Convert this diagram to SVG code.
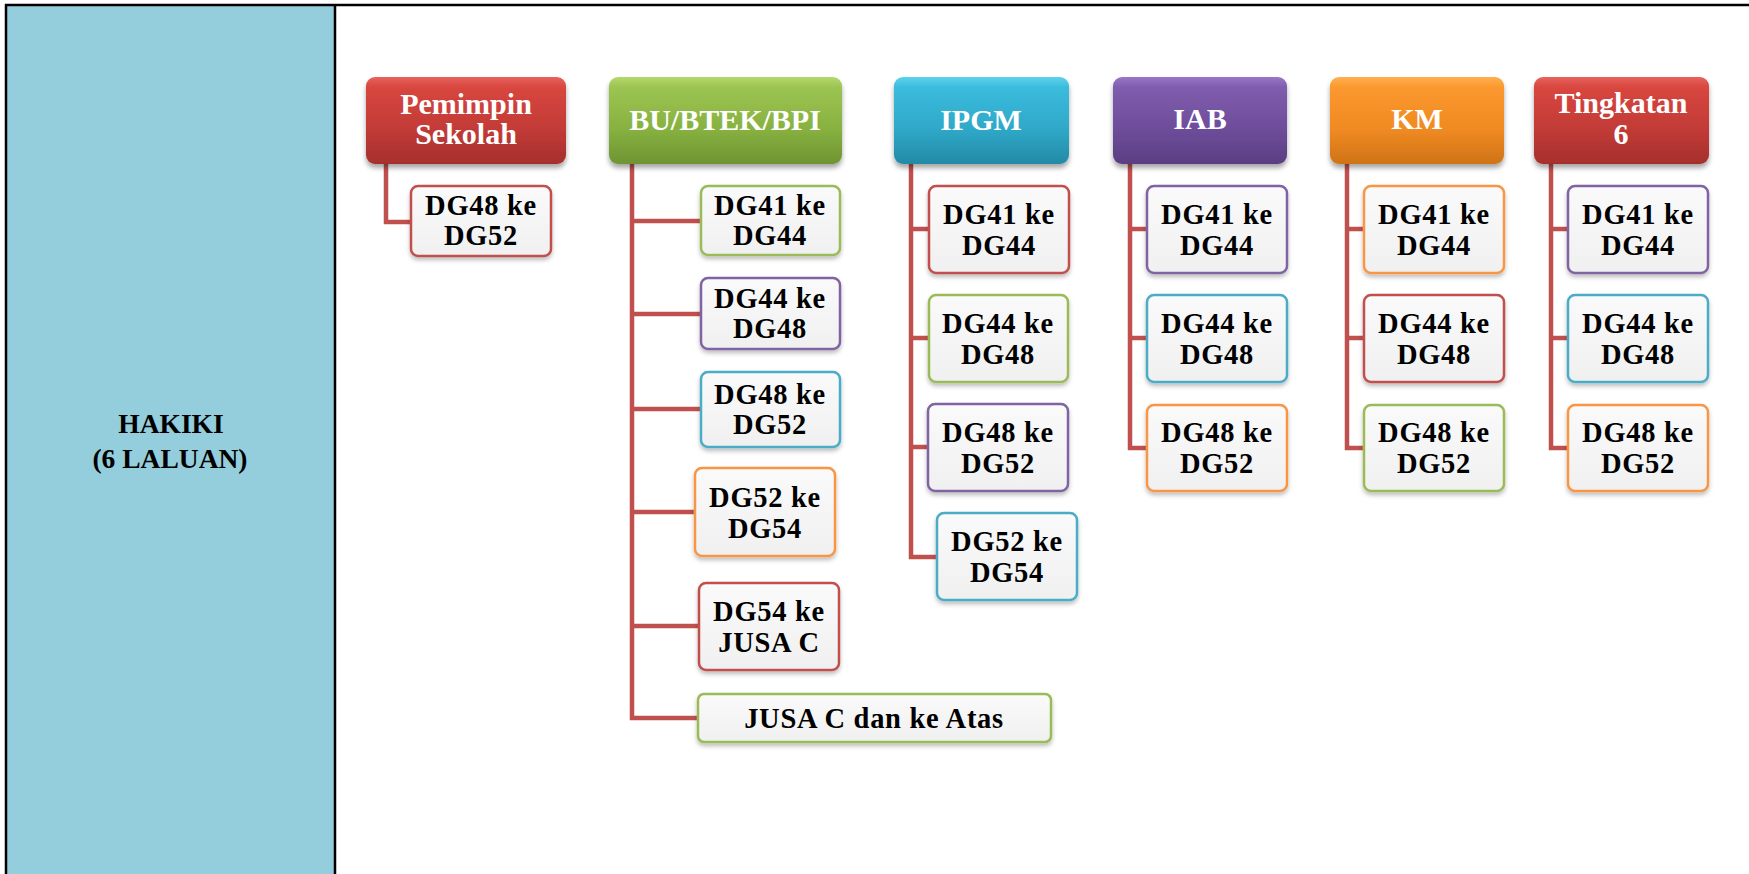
<svg xmlns="http://www.w3.org/2000/svg" width="1749" height="874" viewBox="0 0 1749 874">
<defs>
<linearGradient id="gRed" x1="0" y1="0" x2="0" y2="1"><stop offset="0" stop-color="#E9625E"/><stop offset="0.12" stop-color="#D8463F"/><stop offset="0.6" stop-color="#C23B37"/><stop offset="1" stop-color="#A52F2C"/></linearGradient>
<linearGradient id="gGreen" x1="0" y1="0" x2="0" y2="1"><stop offset="0" stop-color="#B5D86C"/><stop offset="0.12" stop-color="#9CC452"/><stop offset="0.6" stop-color="#87B140"/><stop offset="1" stop-color="#6E9433"/></linearGradient>
<linearGradient id="gBlue" x1="0" y1="0" x2="0" y2="1"><stop offset="0" stop-color="#5ED2EC"/><stop offset="0.12" stop-color="#3BBCDD"/><stop offset="0.6" stop-color="#2FA8C8"/><stop offset="1" stop-color="#238AA6"/></linearGradient>
<linearGradient id="gPurple" x1="0" y1="0" x2="0" y2="1"><stop offset="0" stop-color="#9B76C6"/><stop offset="0.12" stop-color="#805CAE"/><stop offset="0.6" stop-color="#6D4D9A"/><stop offset="1" stop-color="#5A3E82"/></linearGradient>
<linearGradient id="gOrange" x1="0" y1="0" x2="0" y2="1"><stop offset="0" stop-color="#FFB050"/><stop offset="0.12" stop-color="#FB982F"/><stop offset="0.6" stop-color="#F08A22"/><stop offset="1" stop-color="#CF7317"/></linearGradient>
<linearGradient id="gChild" x1="0" y1="0" x2="0" y2="1"><stop offset="0" stop-color="#FAFAFA"/><stop offset="1" stop-color="#F0F0F0"/></linearGradient>
<filter id="shadow" x="-10%" y="-10%" width="120%" height="140%"><feDropShadow dx="0" dy="4" stdDeviation="2.5" flood-color="#000" flood-opacity="0.35"/></filter>
<filter id="shadowS" x="-10%" y="-10%" width="120%" height="140%"><feDropShadow dx="0" dy="3" stdDeviation="2" flood-color="#000" flood-opacity="0.25"/></filter>
</defs>
<style>
.head rect{filter:url(#shadow)}
.head text{font-family:"Liberation Serif","Times New Roman",serif;font-weight:bold;font-size:30px;fill:#FFFFFF;text-anchor:middle}
.child rect{fill:url(#gChild);stroke-width:2.5;filter:url(#shadowS)}
.child text{font-family:"Liberation Serif","Times New Roman",serif;font-weight:bold;font-size:28.5px;fill:#000;text-anchor:middle;letter-spacing:0.7px}
.cr{stroke:#C0504D}.cg{stroke:#9BBB59}.cp{stroke:#8064A2}.cb{stroke:#4BACC6}.co{stroke:#F79646}
#connectors path{fill:none;stroke:#C0504D;stroke-width:4.5}
.lbl{font-family:"Liberation Serif","Times New Roman",serif;font-weight:bold;font-size:27.5px;fill:#000;text-anchor:middle}
</style>
<rect x="0" y="0" width="1749" height="874" fill="#FFFFFF"/>
<g id="frame">
<rect x="6" y="5" width="329" height="880" fill="#94CDDB"/>
<line x1="5" y1="5" x2="1749" y2="5" stroke="#000" stroke-width="2.5"/>
<line x1="6" y1="4" x2="6" y2="874" stroke="#000" stroke-width="2.5"/>
<line x1="335" y1="4" x2="335" y2="874" stroke="#000" stroke-width="2.5"/>
<text class="lbl" x="171" y="433">HAKIKI</text>
<text class="lbl" x="170" y="468">(6 LALUAN)</text>
</g>
<g id="connectors">
<path d="M386 164 V222 H411"/>
<path d="M632 164 V718 H698 M632 221 H701 M632 314 H701 M632 409 H701 M632 512 H695 M632 626 H699"/>
<path d="M911 164 V557 H937 M911 229 H929 M911 338 H929 M911 447 H928"/>
<path d="M1130 164 V448 H1147 M1130 229 H1147 M1130 338 H1147"/>
<path d="M1347 164 V448 H1364 M1347 229 H1364 M1347 338 H1364"/>
<path d="M1551 164 V448 H1568 M1551 229 H1568 M1551 338 H1568"/>
</g>
<g id="head-pemimpin" class="head"><rect x="366" y="77" width="200" height="87" rx="9" fill="url(#gRed)"/><text x="466" y="114">Pemimpin</text><text x="466" y="144">Sekolah</text></g>
<g id="head-bu" class="head"><rect x="609" y="77" width="233" height="87" rx="9" fill="url(#gGreen)"/><text x="725" y="130">BU/BTEK/BPI</text></g>
<g id="head-ipgm" class="head"><rect x="894" y="77" width="175" height="87" rx="9" fill="url(#gBlue)"/><text x="981" y="130">IPGM</text></g>
<g id="head-iab" class="head"><rect x="1113" y="77" width="174" height="87" rx="9" fill="url(#gPurple)"/><text x="1200" y="129">IAB</text></g>
<g id="head-km" class="head"><rect x="1330" y="77" width="174" height="87" rx="9" fill="url(#gOrange)"/><text x="1417" y="129">KM</text></g>
<g id="head-t6" class="head"><rect x="1534" y="77" width="175" height="87" rx="9" fill="url(#gRed)"/><text x="1621" y="113">Tingkatan</text><text x="1621" y="144">6</text></g>

<g id="pem-1" class="child"><rect class="cr" x="411" y="186" width="140" height="70" rx="7"/><text x="481" y="215">DG48 ke</text><text x="481" y="245">DG52</text></g>

<g id="bu-1" class="child"><rect class="cg" x="701" y="186" width="139" height="69" rx="7"/><text x="770" y="215">DG41 ke</text><text x="770" y="245">DG44</text></g>
<g id="bu-2" class="child"><rect class="cp" x="701" y="278" width="139" height="71" rx="7"/><text x="770" y="308">DG44 ke</text><text x="770" y="338">DG48</text></g>
<g id="bu-3" class="child"><rect class="cb" x="701" y="372" width="139" height="75" rx="7"/><text x="770" y="404">DG48 ke</text><text x="770" y="434">DG52</text></g>
<g id="bu-4" class="child"><rect class="co" x="695" y="468" width="140" height="88" rx="7"/><text x="765" y="507">DG52 ke</text><text x="765" y="538">DG54</text></g>
<g id="bu-5" class="child"><rect class="cr" x="699" y="583" width="140" height="87" rx="7"/><text x="769" y="621">DG54 ke</text><text x="769" y="652">JUSA C</text></g>
<g id="bu-6" class="child"><rect class="cg" x="698" y="694" width="353" height="48" rx="6"/><text x="874" y="728">JUSA C dan ke Atas</text></g>

<g id="ipgm-1" class="child"><rect class="cr" x="929" y="186" width="140" height="87" rx="7"/><text x="999" y="224">DG41 ke</text><text x="999" y="255">DG44</text></g>
<g id="ipgm-2" class="child"><rect class="cg" x="929" y="295" width="139" height="87" rx="7"/><text x="998" y="333">DG44 ke</text><text x="998" y="364">DG48</text></g>
<g id="ipgm-3" class="child"><rect class="cp" x="928" y="404" width="140" height="87" rx="7"/><text x="998" y="442">DG48 ke</text><text x="998" y="473">DG52</text></g>
<g id="ipgm-4" class="child"><rect class="cb" x="937" y="513" width="140" height="87" rx="7"/><text x="1007" y="551">DG52 ke</text><text x="1007" y="582">DG54</text></g>

<g id="iab-1" class="child"><rect class="cp" x="1147" y="186" width="140" height="87" rx="7"/><text x="1217" y="224">DG41 ke</text><text x="1217" y="255">DG44</text></g>
<g id="iab-2" class="child"><rect class="cb" x="1147" y="295" width="140" height="87" rx="7"/><text x="1217" y="333">DG44 ke</text><text x="1217" y="364">DG48</text></g>
<g id="iab-3" class="child"><rect class="co" x="1147" y="405" width="140" height="86" rx="7"/><text x="1217" y="442">DG48 ke</text><text x="1217" y="473">DG52</text></g>

<g id="km-1" class="child"><rect class="co" x="1364" y="186" width="140" height="87" rx="7"/><text x="1434" y="224">DG41 ke</text><text x="1434" y="255">DG44</text></g>
<g id="km-2" class="child"><rect class="cr" x="1364" y="295" width="140" height="87" rx="7"/><text x="1434" y="333">DG44 ke</text><text x="1434" y="364">DG48</text></g>
<g id="km-3" class="child"><rect class="cg" x="1364" y="405" width="140" height="86" rx="7"/><text x="1434" y="442">DG48 ke</text><text x="1434" y="473">DG52</text></g>

<g id="t6-1" class="child"><rect class="cp" x="1568" y="186" width="140" height="87" rx="7"/><text x="1638" y="224">DG41 ke</text><text x="1638" y="255">DG44</text></g>
<g id="t6-2" class="child"><rect class="cb" x="1568" y="295" width="140" height="87" rx="7"/><text x="1638" y="333">DG44 ke</text><text x="1638" y="364">DG48</text></g>
<g id="t6-3" class="child"><rect class="co" x="1568" y="405" width="140" height="86" rx="7"/><text x="1638" y="442">DG48 ke</text><text x="1638" y="473">DG52</text></g>
</svg>
